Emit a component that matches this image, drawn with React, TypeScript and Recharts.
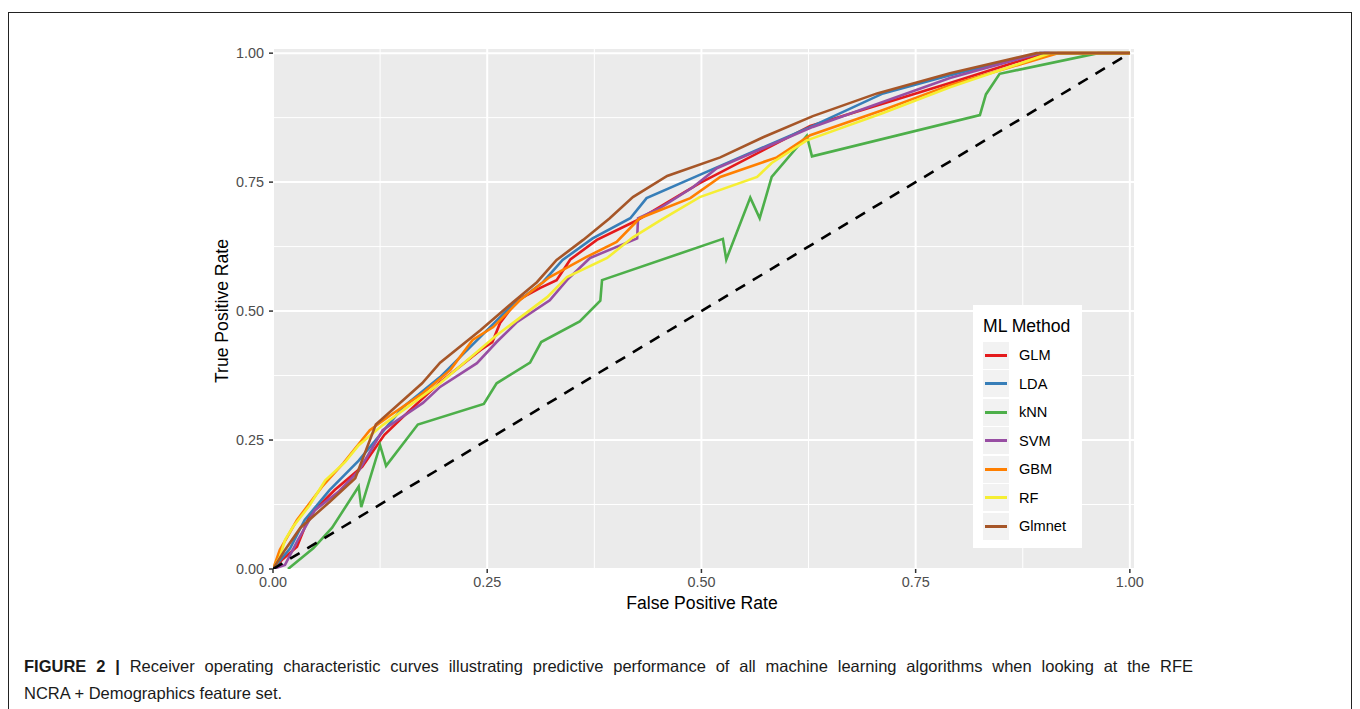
import { LineChart, Line, XAxis, YAxis, CartesianGrid } from 'recharts';

// ROC points (false positive rate / true positive rate)
const glmFpr = [0, 0.012, 0.028, 0.043, 0.072, 0.104, 0.13, 0.16, 0.195, 0.242, 0.256, 0.265, 0.285, 0.312, 0.331, 0.347, 0.378, 0.425, 0.498, 0.627, 0.79, 0.9, 1];
const glmTpr = [0, 0.02, 0.043, 0.105, 0.153, 0.198, 0.26, 0.308, 0.362, 0.424, 0.44, 0.477, 0.521, 0.545, 0.56, 0.6, 0.638, 0.676, 0.748, 0.859, 0.942, 1, 1];

const ldaFpr = [0, 0.02, 0.037, 0.066, 0.1, 0.152, 0.195, 0.242, 0.277, 0.315, 0.338, 0.373, 0.417, 0.436, 0.502, 0.63, 0.712, 0.79, 0.895, 1];
const ldaTpr = [0, 0.04, 0.095, 0.153, 0.21, 0.314, 0.372, 0.45, 0.508, 0.556, 0.599, 0.641, 0.68, 0.719, 0.767, 0.859, 0.922, 0.957, 1, 1];

const knnFpr = [0.0175, 0.047, 0.069, 0.1, 0.103, 0.125, 0.132, 0.169, 0.246, 0.261, 0.3, 0.313, 0.358, 0.382, 0.384, 0.525, 0.529, 0.557, 0.568, 0.582, 0.623, 0.629, 0.825, 0.832, 0.848, 0.963, 1];
const knnTpr = [0, 0.04, 0.08, 0.16, 0.12, 0.24, 0.2, 0.28, 0.32, 0.36, 0.4, 0.44, 0.48, 0.52, 0.56, 0.64, 0.6, 0.72, 0.68, 0.76, 0.84, 0.8, 0.88, 0.92, 0.96, 1, 1];

const svmFpr = [0, 0.014, 0.029, 0.049, 0.076, 0.1, 0.128, 0.175, 0.195, 0.238, 0.261, 0.285, 0.323, 0.343, 0.37, 0.425, 0.426, 0.452, 0.49, 0.518, 0.63, 0.79, 0.895, 1];
const svmTpr = [0, 0.008, 0.056, 0.114, 0.149, 0.19, 0.269, 0.322, 0.353, 0.399, 0.44, 0.479, 0.521, 0.56, 0.603, 0.641, 0.68, 0.7, 0.74, 0.777, 0.857, 0.952, 1, 1];

const gbmFpr = [0, 0.008, 0.028, 0.057, 0.082, 0.113, 0.137, 0.175, 0.207, 0.233, 0.257, 0.288, 0.323, 0.366, 0.401, 0.428, 0.487, 0.522, 0.588, 0.627, 0.712, 0.79, 0.916, 1];
const gbmTpr = [0, 0.037, 0.095, 0.159, 0.205, 0.269, 0.298, 0.341, 0.386, 0.444, 0.469, 0.521, 0.566, 0.605, 0.634, 0.68, 0.719, 0.76, 0.798, 0.841, 0.89, 0.938, 1, 1];

const rfFpr = [0, 0.008, 0.014, 0.023, 0.043, 0.061, 0.084, 0.1, 0.128, 0.195, 0.261, 0.32, 0.343, 0.39, 0.42, 0.452, 0.498, 0.565, 0.582, 0.623, 0.712, 0.79, 0.907, 1];
const rfTpr = [0, 0.023, 0.056, 0.081, 0.124, 0.172, 0.207, 0.24, 0.279, 0.36, 0.453, 0.527, 0.566, 0.603, 0.643, 0.676, 0.721, 0.76, 0.787, 0.831, 0.884, 0.934, 1, 1];

const glmnetFpr = [0, 0.014, 0.032, 0.066, 0.096, 0.12, 0.174, 0.195, 0.242, 0.28, 0.308, 0.331, 0.362, 0.393, 0.42, 0.46, 0.522, 0.572, 0.63, 0.705, 0.79, 0.891, 1];
const glmnetTpr = [0, 0.037, 0.08, 0.13, 0.176, 0.28, 0.36, 0.4, 0.463, 0.517, 0.556, 0.599, 0.638, 0.68, 0.721, 0.762, 0.798, 0.837, 0.878, 0.922, 0.961, 1, 1];

const chanceFpr = [0, 1];
const chanceTpr = [0, 1];

const methods = ['GLM', 'LDA', 'kNN', 'SVM', 'GBM', 'RF', 'Glmnet'];
const colors = ['#E41A1C', '#377EB8', '#4DAF4A', '#984EA3', '#FF7F00', '#F5EE33', '#A65628'];
const fprs = [glmFpr, ldaFpr, knnFpr, svmFpr, gbmFpr, rfFpr, glmnetFpr];
const tprs = [glmTpr, ldaTpr, knnTpr, svmTpr, gbmTpr, rfTpr, glmnetTpr];

const majorTicks = [0, 0.25, 0.5, 0.75, 1];
const minorTicks = [0.125, 0.375, 0.625, 0.875];

const toPoints = (xs: number[], ys: number[]) => xs.map((x, i) => ({ x, y: ys[i] }));

const series = methods.map((name, i) => ({ name, color: colors[i], data: toPoints(fprs[i], tprs[i]) }));
const chance = toPoints(chanceFpr, chanceTpr);

const font = '"Liberation Sans", Arial, Helvetica, sans-serif';

export default function App() {
  return (
    <div style={{ position: 'absolute', left: 8, top: 12, width: 1344, height: 720, border: '1px solid #222', boxSizing: 'border-box', fontFamily: font, background: '#fff' }}>
      <div style={{ position: 'absolute', left: 0, top: 0 }}>
        <LineChart width={1342} height={620} margin={{ top: 35, right: 216, bottom: 0, left: 0 }}>
          <XAxis xAxisId="minor" type="number" dataKey="x" domain={[0, 1.006]} ticks={minorTicks} hide allowDataOverflow />
          <YAxis yAxisId="minor" type="number" dataKey="y" domain={[0, 1.01]} ticks={minorTicks} hide allowDataOverflow />
          <CartesianGrid xAxisId="minor" yAxisId="minor" stroke="#FFFFFF" strokeWidth={1} fill="#EBEBEB" fillOpacity={1} />
          <CartesianGrid stroke="#FFFFFF" strokeWidth={2} />
          <XAxis
            type="number"
            dataKey="x"
            domain={[0, 1.006]}
            ticks={majorTicks}
            allowDataOverflow
            height={64}
            axisLine={false}
            tickSize={4}
            tickMargin={4}
            tickLine={{ stroke: '#333', strokeWidth: 1.5 }}
            tick={{ fill: '#4D4D4D', fontSize: 14.4, fontFamily: font }}
            tickFormatter={(v: number) => v.toFixed(2)}
            interval={0}
          />
          <YAxis
            type="number"
            dataKey="y"
            domain={[0, 1.01]}
            ticks={majorTicks}
            allowDataOverflow
            width={264}
            axisLine={false}
            tickSize={4}
            tickMargin={5}
            tickLine={{ stroke: '#333', strokeWidth: 1.5 }}
            tick={{ fill: '#4D4D4D', fontSize: 14.4, fontFamily: font }}
            tickFormatter={(v: number) => v.toFixed(2)}
            interval={0}
          />
          {series.map(s => (
            <Line key={s.name} data={s.data} dataKey="y" type="linear" stroke={s.color} strokeWidth={2.6} dot={false} activeDot={false} isAnimationActive={false} />
          ))}
          <Line data={chance} dataKey="y" type="linear" stroke="#000" strokeWidth={2.6} strokeDasharray="11 9" dot={false} activeDot={false} isAnimationActive={false} />
        </LineChart>
      </div>

      <div style={{ position: 'absolute', left: 693, top: 590, transform: 'translate(-50%, -50%)', fontSize: 17.6, color: '#000', whiteSpace: 'nowrap' }}>False Positive Rate</div>
      <div style={{ position: 'absolute', left: 213, top: 298, transform: 'translate(-50%, -50%) rotate(-90deg)', fontSize: 17.6, color: '#000', whiteSpace: 'nowrap' }}>True Positive Rate</div>

      <div style={{ position: 'absolute', left: 964, top: 292, width: 109, height: 243, background: '#fff', boxSizing: 'border-box', paddingLeft: 10, paddingTop: 6 }}>
        <div style={{ fontSize: 17.6, color: '#000', height: 30, lineHeight: '30px' }}>ML Method</div>
        {series.map(s => (
          <div key={s.name} style={{ display: 'flex', alignItems: 'center', height: 28.5 }}>
            <div style={{ width: 26, height: 27, background: '#F2F2F2', display: 'flex', alignItems: 'center', justifyContent: 'center' }}>
              <div style={{ width: 22, height: 3, background: s.color }} />
            </div>
            <div style={{ marginLeft: 10, fontSize: 14.6, color: '#000' }}>{s.name}</div>
          </div>
        ))}
      </div>

      <div style={{ position: 'absolute', left: 15, top: 640, fontSize: 16.5, lineHeight: '27px', color: '#1a1a1a' }}>
        <div style={{ width: 1169, textAlign: 'justify', textAlignLast: 'justify', whiteSpace: 'nowrap' as const }}>
          <b>FIGURE 2 |</b> Receiver operating characteristic curves illustrating predictive performance of all machine learning algorithms when looking at the RFE
        </div>
        <div style={{ whiteSpace: 'nowrap' }}>NCRA + Demographics feature set.</div>
      </div>
    </div>
  );
}
